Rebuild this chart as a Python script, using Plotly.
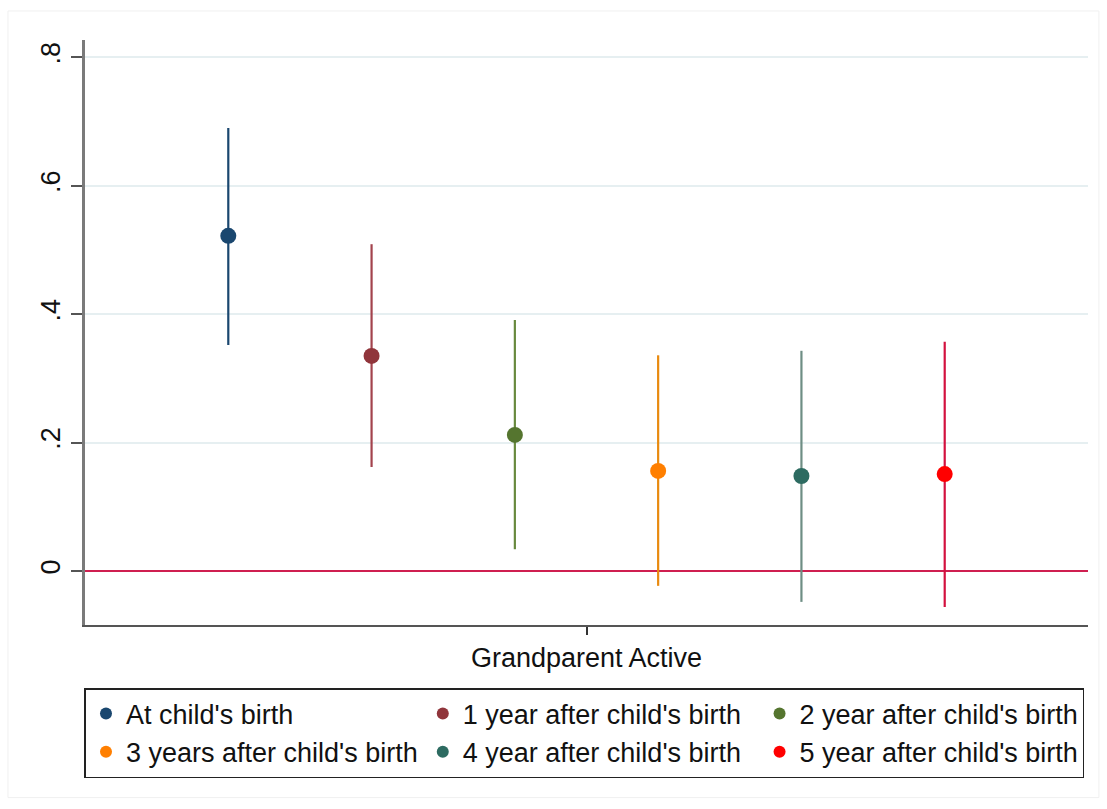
import plotly.graph_objects as go

# Coefficient estimates with 95% confidence intervals
periods = [
    "At child's birth",
    "1 year after child's birth",
    "2 year after child's birth",
    "3 years after child's birth",
    "4 year after child's birth",
    "5 year after child's birth",
]
estimates = [0.522, 0.335, 0.212, 0.156, 0.148, 0.151]
ci_low = [0.352, 0.162, 0.034, -0.023, -0.048, -0.056]
ci_high = [0.690, 0.509, 0.391, 0.336, 0.343, 0.357]
offsets = [-2.5, -1.5, -0.5, 0.5, 1.5, 2.5]

marker_colors = ["#1a476f", "#90353b", "#55752f", "#ff7f00", "#2d6b61", "#ff0000"]
line_colors = ["#1a476f", "#a3434d", "#68893e", "#e98a0f", "#6e8e84", "#d3113f"]

y_ticks = [0, 0.2, 0.4, 0.6, 0.8]
y_tick_text = ["0", ".2", ".4", ".6", ".8"]
x_label = "Grandparent Active"

FONT = "Liberation Sans, Arial, sans-serif"

fig = go.Figure()
for name, x, est, lo, hi, mc, lc in zip(periods, offsets, estimates, ci_low, ci_high,
                                         marker_colors, line_colors):
    fig.add_trace(go.Scatter(
        x=[x], y=[est], name=name, mode="markers",
        marker=dict(color=mc, size=16, line=dict(width=0)),
        error_y=dict(type="data", symmetric=False, array=[hi - est], arrayminus=[est - lo],
                     color=lc, thickness=2.2, width=0),
    ))

fig.update_layout(
    width=1107, height=809,
    margin=dict(l=85, r=19, t=40, b=184, autoexpand=False),
    paper_bgcolor="white", plot_bgcolor="white",
    font=dict(family=FONT, size=27, color="#111111"),
    showlegend=True,
    legend=dict(
        orientation="h", x=-0.0005, xanchor="left", y=-0.1077, yanchor="top",
        itemsizing="constant",
        bordercolor="#222222", borderwidth=1.5, bgcolor="white",
        font=dict(family=FONT, size=27, color="#111111"),
        traceorder="normal",
    ),
    xaxis=dict(
        range=[-3.5, 3.5], tickvals=[0], ticktext=[x_label],
        ticks="outside", ticklen=8, tickwidth=1.5, tickcolor="#333333",
        showgrid=False, zeroline=False,
        showline=True, linecolor="#555555", linewidth=2,
        tickfont=dict(family=FONT, size=27, color="#111111"),
    ),
    yaxis=dict(
        range=[-0.084, 0.827], tickvals=y_ticks, ticktext=y_tick_text,
        tickangle=-90, ticks="outside", ticklen=11, tickwidth=2, tickcolor="#555555",
        showgrid=True, gridcolor="#e6eff1", gridwidth=1.5,
        zeroline=True, zerolinecolor="#cf1f50", zerolinewidth=2,
        showline=True, linecolor="#7a7a7a", linewidth=2.5,
        tickfont=dict(family=FONT, size=27, color="#111111"),
    ),
    shapes=[dict(type="rect", xref="paper", yref="paper",
                 x0=-0.0768, x1=1.0109, y0=-0.295, y1=1.0496,
                 line=dict(color="#f0f0f0", width=1), layer="below")],
)

fig.write_html("out.html")
